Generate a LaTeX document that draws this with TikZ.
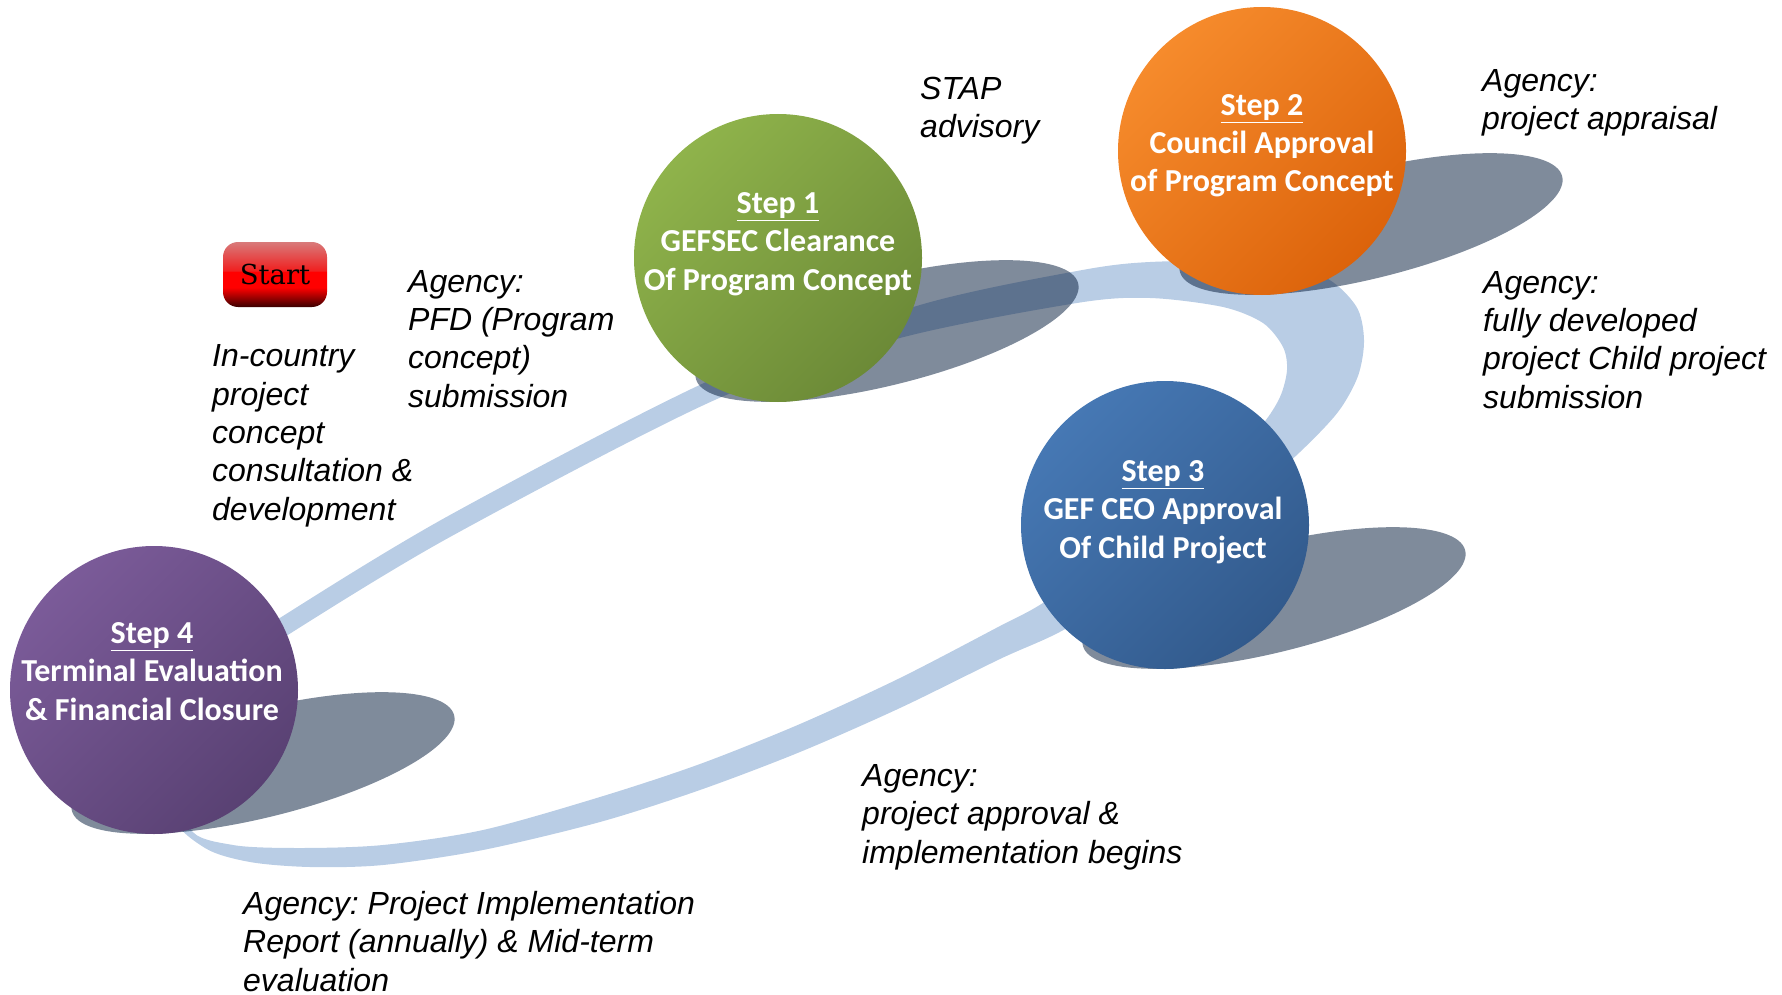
\documentclass[tikz,border=0pt]{standalone}
\usepackage{fontspec}
\setmainfont{Liberation Sans}
\newfontfamily\stepfont{Carlito}
\newfontfamily\btnfont{DejaVu Serif}
\frenchspacing
\definecolor{band}{HTML}{B9CDE5}
\definecolor{shadowblue}{HTML}{0A2040}
\definecolor{greenA}{HTML}{8FB34B}
\definecolor{greenB}{HTML}{6C8A37}
\definecolor{orangeA}{HTML}{F68B2C}
\definecolor{orangeB}{HTML}{DC630B}
\definecolor{blueA}{HTML}{4678B4}
\definecolor{blueB}{HTML}{325A8C}
\definecolor{purpleA}{HTML}{7B5B99}
\definecolor{purpleB}{HTML}{594173}
\definecolor{btnbot}{HTML}{3A0000}
\definecolor{btnmid}{HTML}{8A0000}
\definecolor{btnhi}{HTML}{F02020}
\definecolor{btntop}{HTML}{D87A7A}
\pgfdeclareverticalshading{startgloss}{100bp}{color(0bp)=(btnbot); color(25bp)=(btnbot); color(31bp)=(btnmid); color(40bp)=(red); color(52bp)=(red); color(53bp)=(btnhi); color(75bp)=(btntop); color(100bp)=(btntop)}
\tikzset{
  stepball/.style={circle, minimum size=288pt, inner sep=0pt},
  steptext/.style={text=white, font=\stepfont\bfseries\fontsize{32}{38.3}\selectfont, align=center, anchor=base},
  note/.style={font=\itshape\fontsize{32}{38.3}\selectfont, align=left, anchor=base west, inner sep=0pt},
  halo/.style={fill=shadowblue, fill opacity=0.52},
  startbtn/.style={shade, shading=startgloss, rounded corners=15pt, minimum width=104pt, minimum height=65pt, inner sep=0pt, font=\btnfont\fontsize{27.5}{33}\selectfont, text=black}
}

\begin{document}
\begin{tikzpicture}[x=1pt, y=-1pt]
\useasboundingbox (0,0) rectangle (1782,995);
\fill[band, even odd rule]
  plot[smooth cycle] coordinates {(220,660) (283,616) (450,515) (717,377) (920,305) (1077,271) (1150,262) (1250,262) (1322,276) (1356,306) (1364,340) (1358,376) (1338,412) (1300,452) (1240,505) (1150,572) (1067,628) (1000,659) (900,708) (800,752) (700,790) (600,822) (483,850) (383,865) (310,867) (250,862) (205,848) (170,812) (170,730)}
  plot[smooth cycle] coordinates {(283,638) (450,537) (717,399) (900,338) (1077,303) (1150,298) (1223,307) (1263,323) (1283,347) (1287,370) (1280,397) (1262,425) (1220,470) (1130,545) (1043,603) (1000,626) (900,678) (800,724) (700,764) (600,797) (483,830) (383,845) (300,848) (233,845) (190,828) (195,760) (235,672)};
\fill[halo, rotate around={14:(887,331)}] (887,331) ellipse [x radius=197, y radius=54];
\fill[halo, rotate around={14:(1371,224)}] (1371,224) ellipse [x radius=197, y radius=54];
\fill[halo, rotate around={14:(1274,598)}] (1274,598) ellipse [x radius=197, y radius=54];
\fill[halo, rotate around={14:(263,763)}] (263,763) ellipse [x radius=197, y radius=54];
\node[stepball, top color=greenA, bottom color=greenB, shading angle=45] (s1) at (778,258) {};
\node[stepball, top color=orangeA, bottom color=orangeB, shading angle=45] (s2) at (1262,151) {};
\node[stepball, top color=blueA, bottom color=blueB, shading angle=45] (s3) at (1165,525) {};
\node[stepball, top color=purpleA, bottom color=purpleB, shading angle=45] (s4) at (154,690) {};
\node[steptext] (t1) at (778,290) {\underline{Step 1}\\GEFSEC Clearance\\Of Program Concept};
\node[steptext] (t2) at (1262,192) {\underline{Step 2}\\Council Approval\\of Program Concept};
\node[steptext] (t3) at (1163,558) {\underline{Step 3}\\GEF CEO Approval\\Of Child Project};
\node[steptext] (t4) at (152,720) {\underline{Step 4}\\Terminal Evaluation\\\&~Financial Closure};
\node[startbtn] (start) at (275,274.5) {Start};
\node[note] (stap) at (920,138) {STAP\\advisory};
\node[note] (appraisal) at (1482,130) {Agency:\\project appraisal};
\node[note] (childsub) at (1483,408) {Agency:\\fully developed\\project Child project\\submission};
\node[note] (pfd) at (408,407) {Agency:\\PFD (Program\\concept)\\submission};
\node[note] (incountry) at (212,520) {In-country\\project\\concept\\consultation \&\\development};
\node[note] (approval) at (862,863) {Agency:\\project approval \&\\implementation begins};
\node[note] (pir) at (243,991) {Agency: Project Implementation\\Report (annually) \& Mid-term\\evaluation};
\end{tikzpicture}
\end{document}
